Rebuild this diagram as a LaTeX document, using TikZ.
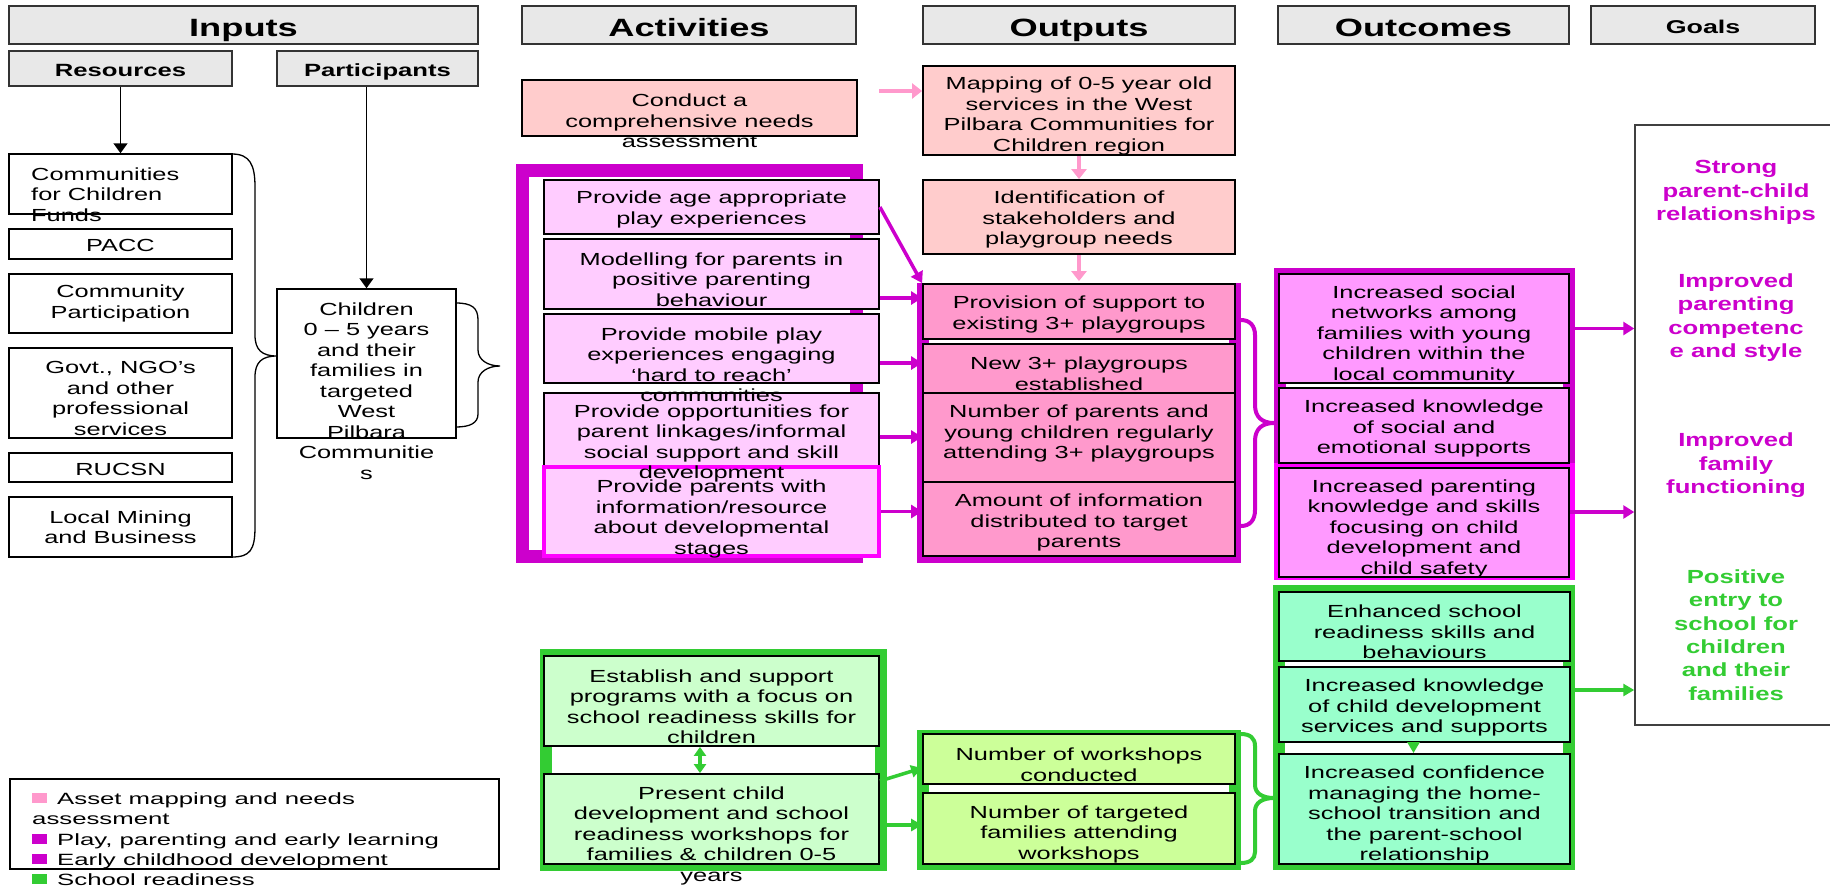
\documentclass[tikz,border=0pt]{standalone}
\usepackage{fontspec}
\setmainfont{Liberation Sans}[FakeStretch=1.45]
\newfontfamily\legfont{Liberation Sans}[FakeStretch=1.58]
\newfontfamily\goalfont{Liberation Sans}[FakeStretch=1.35]
\usetikzlibrary{arrows.meta,calc}
\definecolor{hdrgray}{HTML}{E8E8E8}
\definecolor{salmon}{HTML}{FFCCCC}
\definecolor{pinkarrow}{HTML}{FF99CC}
\definecolor{mag}{HTML}{CC00CC}
\definecolor{brightmag}{HTML}{FF00FF}
\definecolor{actpink}{HTML}{FFCCFF}
\definecolor{outpink}{HTML}{FF99CC}
\definecolor{ocpink}{HTML}{FF99FF}
\definecolor{grn}{HTML}{33CC33}
\definecolor{actgrn}{HTML}{CCFFCC}
\definecolor{outgrn}{HTML}{CCFF99}
\definecolor{ocgrn}{HTML}{99FFCC}
\newcommand{\mkbox}[6]{\node[#2, minimum width={#5-#3}, minimum height={#6-#4}] (#1) at ({(#3+#5)/2},{(#4+#6)/2}) {};}
\tikzset{
  hdr/.style={draw=black!80, fill=hdrgray, line width=1.5pt, inner sep=0pt, text height=22pt, text depth=0pt, font=\bfseries\fontsize{25}{30}\selectfont},
  subhdr/.style={hdr, text height=15pt, font=\bfseries\fontsize{17.7}{21}\selectfont},
  box/.style={draw=black, line width=1.8pt, inner sep=0pt},
  frame/.style={draw, line width=12pt, inner sep=0pt},
  tx/.style={inner sep=0pt, align=center, yshift=-1.5pt, font=\fontsize{17.5}{20.5}\selectfont},
  goal/.style={inner sep=0pt, align=center, font=\goalfont\bfseries\fontsize{19}{23.3}\selectfont},
  legtx/.style={inner sep=0pt, anchor=base west, font=\legfont\fontsize{16.3}{20}\selectfont},
  legsq/.style={inner sep=0pt, minimum width=15pt, minimum height=10pt},
  blkarr/.style={draw=black, line width=1.5pt, -{Triangle[length=10pt,width=14pt]}},
  pinkarr/.style={draw=pinkarrow, line width=4.5pt, -{Triangle[length=10pt,width=15pt]}},
  magarr/.style={draw=mag, line width=3.5pt, -{Triangle[length=11pt,width=13pt]}},
  grnarr/.style={draw=grn, line width=3.5pt, -{Triangle[length=11pt,width=12pt]}},
  grnarrd/.style={draw=grn, line width=3.5pt, {Triangle[length=9pt,width=12pt]}-{Triangle[length=9pt,width=12pt]}},
}
\begin{document}
\begin{tikzpicture}[x=1pt,y=-1pt]
\useasboundingbox (0,0) rectangle (1830,887);
\fill[white] (0,0) rectangle (1830,887);

% ---------- headers ----------
\node[hdr, minimum width=469, minimum height=38] (hin) at (243.5,25) {Inputs};
\node[hdr, minimum width=334, minimum height=38] (hact) at (689,25) {Activities};
\node[hdr, minimum width=312, minimum height=38] (hout) at (1079,25) {Outputs};
\node[hdr, minimum width=291, minimum height=38] (hoc) at (1423.5,25) {Outcomes};
\node[hdr, minimum width=224, minimum height=38, text height=16pt, font=\bfseries\fontsize{18.5}{22}\selectfont] (hgo) at (1703,25) {Goals};
\node[subhdr, minimum width=223, minimum height=35] (hres) at (120.5,68.5) {Resources};
\node[subhdr, minimum width=201, minimum height=35] (hpar) at (377.5,68.5) {Participants};

% ---------- group frames ----------
\draw[frame, draw=mag, line width=13pt] (522.5,170.5) rectangle (856.5,556.5);
\draw[frame, draw=mag] (923,289) rectangle (1235,557);
\draw[frame, draw=mag] (1280,274) rectangle (1569,459);
\draw[frame, draw=brightmag] (1280,469) rectangle (1569,574);
\draw[frame, draw=grn] (546,655) rectangle (881,865);
\draw[frame, draw=grn] (923,736) rectangle (1235,864);
\draw[frame, draw=grn] (1279,591) rectangle (1569,864);

% ---------- inputs ----------
\mkbox{cfc}{box, line width=1.5pt}{9}{154}{232}{214}
\mkbox{pacc}{box, line width=1.5pt}{9}{229}{232}{259}
\mkbox{cp}{box, line width=1.5pt}{9}{274}{232}{333}
\mkbox{govt}{box, line width=1.5pt}{9}{348}{232}{438}
\mkbox{rucsn}{box, line width=1.5pt}{9}{453}{232}{482}
\mkbox{lmb}{box, line width=1.5pt}{9}{497}{232}{557}
\mkbox{chi}{box, line width=1.5pt}{277}{289}{456}{438}

% ---------- activities ----------
\mkbox{conduct}{box, fill=salmon}{522}{80}{857}{136}
\mkbox{a1}{box, fill=actpink}{544}{180}{879}{234}
\mkbox{a2}{box, fill=actpink}{544}{239}{879}{309}
\mkbox{a3}{box, fill=actpink}{544}{314}{879}{383}
\mkbox{a4}{box, fill=actpink, line width=1.2pt}{544}{393}{879}{467}
\mkbox{a5}{box, fill=actpink, draw=brightmag, line width=4pt}{544}{467}{879}{556}
\mkbox{g1}{box, fill=actgrn}{544}{656}{879}{746}
\mkbox{g2}{box, fill=actgrn}{544}{774}{879}{864}

% ---------- outputs ----------
\mkbox{map}{box, fill=salmon}{923}{66}{1235}{155}
\mkbox{ident}{box, fill=salmon}{923}{180}{1235}{254}
\mkbox{o1}{box, fill=outpink}{923}{284}{1235}{339}
\mkbox{o2}{box, fill=outpink}{923}{344}{1235}{393}
\mkbox{o3}{box, fill=outpink}{923}{393}{1235}{482}
\mkbox{o4}{box, fill=outpink}{923}{482}{1235}{556}
\mkbox{w1}{box, fill=outgrn}{923}{734}{1235}{784}
\mkbox{w2}{box, fill=outgrn}{923}{793}{1235}{864}

% ---------- outcomes ----------
\mkbox{c1}{box, fill=ocpink}{1279}{274}{1569}{383}
\mkbox{c2}{box, fill=ocpink}{1279}{388}{1569}{463}
\mkbox{c3}{box, fill=ocpink}{1279}{468}{1569}{577}
\mkbox{e1}{box, fill=ocgrn}{1279}{592}{1570}{661}
\mkbox{e2}{box, fill=ocgrn}{1279}{667}{1570}{742}
\mkbox{e3}{box, fill=ocgrn}{1279}{754}{1570}{864}

% ---------- goals ----------
\mkbox{goals}{draw=black!75, line width=1.5pt, inner sep=0pt}{1635}{125}{1845}{725}

% ---------- legend ----------
\mkbox{leg}{box, line width=1.5pt}{10}{779}{499}{869}

% ---------- braces ----------
\draw[line width=1.3pt] (232,154) .. controls (250,154) and (255,165) .. (255,187) -- (255,335)
  .. controls (255,350) and (262,356) .. (277,356) .. controls (262,356) and (255,362) .. (255,377)
  -- (255,527) .. controls (255,550) and (250,557) .. (232,557);
\draw[line width=1.3pt] (456,303) .. controls (472,303) and (478,308) .. (478,320) -- (478,350)
  .. controls (478,360) and (488,366) .. (500,366) .. controls (488,366) and (478,372) .. (478,382)
  -- (478,414) .. controls (478,423) and (470,427) .. (456,427);
\draw[mag, line width=4pt] (1241,320) .. controls (1250,320) and (1255,326) .. (1255,335) -- (1255,405)
  .. controls (1255,417) and (1262,423) .. (1274,423) .. controls (1262,423) and (1255,429) .. (1255,441)
  -- (1255,510) .. controls (1255,520) and (1250,526) .. (1241,526);
\draw[grn, line width=4pt] (1241,734) .. controls (1250,734) and (1255,738) .. (1255,746) -- (1255,785)
  .. controls (1255,793) and (1262,798) .. (1274,798) .. controls (1262,798) and (1255,803) .. (1255,811)
  -- (1255,852) .. controls (1255,859) and (1250,863) .. (1241,863);

% ---------- texts ----------
\node[tx, align=left, anchor=west] (cfc-t) at (31,193) {Communities\\for Children\\Funds};
\node[tx] (pacc-t) at (120.5,244) {PACC};
\node[tx] (cp-t) at (120.5,302) {Community\\Participation};
\node[tx] (govt-t) at (120.5,397) {Govt., NGO’s\\and other\\professional\\services};
\node[tx] (rucsn-t) at (120.5,467.5) {RUCSN};
\node[tx] (lmb-t) at (120.5,525.5) {Local Mining\\and Business};
\node[tx] (chi-t) at (366.5,389.5) {Children\\0 – 5 years\\and their\\families in\\targeted\\West\\Pilbara\\Communitie\\s};

\node[tx] (conduct-t) at (689.5,119.3) {Conduct a\\comprehensive needs\\assessment};
\node[tx] (a1-t) at (711.5,208) {Provide age appropriate\\play experiences};
\node[tx] (a2-t) at (711.5,278) {Modelling for parents in\\positive parenting\\behaviour};
\node[tx] (a3-t) at (711.5,363) {Provide mobile play\\experiences engaging\\‘hard to reach’\\communities};
\node[tx] (a4-t) at (711.5,442) {Provide opportunities for\\parent linkages/informal\\social support and skill\\development};
\node[tx] (a5-t) at (711.5,517.5) {Provide parents with\\information/resource\\about developmental\\stages};
\node[tx] (g1-t) at (711.5,705) {Establish and support\\programs with a focus on\\school readiness skills for\\children};
\node[tx] (g2-t) at (711.5,834) {Present child\\development and school\\readiness workshops for\\families \& children 0-5\\years};

\node[tx] (map-t) at (1079,114.5) {Mapping of 0-5 year old\\services in the West\\Pilbara Communities for\\Children region};
\node[tx] (ident-t) at (1079,218.3) {Identification of\\stakeholders and\\playgroup needs};
\node[tx] (o1-t) at (1079,313) {Provision of support to\\existing 3+ playgroups};
\node[tx] (o2-t) at (1079,372) {New 3+ playgroups\\established};
\node[tx] (o3-t) at (1079,432.3) {Number of parents and\\young children regularly\\attending 3+ playgroups};
\node[tx] (o4-t) at (1079,521.3) {Amount of information\\distributed to target\\parents};
\node[tx] (w1-t) at (1079,763) {Number of workshops\\conducted};
\node[tx] (w2-t) at (1079,832.7) {Number of targeted\\families attending\\workshops};

\node[tx] (c1-t) at (1424,333) {Increased social\\networks among\\families with young\\children within the\\local community};
\node[tx] (c2-t) at (1424,427.3) {Increased knowledge\\of social and\\emotional supports};
\node[tx] (c3-t) at (1424,527.2) {Increased parenting\\knowledge and skills\\focusing on child\\development and\\child safety};
\node[tx] (e1-t) at (1424.5,630.3) {Enhanced school\\readiness skills and\\behaviours};
\node[tx] (e2-t) at (1424.5,706) {Increased knowledge\\of child development\\services and supports};
\node[tx] (e3-t) at (1424.5,813.8) {Increased confidence\\managing the home-\\school transition and\\the parent-school\\relationship};

\node[goal, text=mag] (gl1) at (1736,192.5) {Strong\\parent-child\\relationships};
\node[goal, text=mag] (gl2) at (1736,317.5) {Improved\\parenting\\competenc\\e and style};
\node[goal, text=mag] (gl3) at (1736,465.3) {Improved\\family\\functioning};
\node[goal, text=grn] (gl4) at (1736,635) {Positive\\entry to\\school for\\children\\and their\\families};

\node[legsq, fill=pinkarrow] (sq1) at (39.5,798) {};
\node[legsq, fill=mag] (sq2) at (39.5,839) {};
\node[legsq, fill=mag] (sq3) at (39.5,859) {};
\node[legsq, fill=grn] (sq4) at (39.5,879) {};
\node[legtx] (lg1) at (57,804) {Asset mapping and needs};
\node[legtx] (lg1b) at (32,824) {assessment};
\node[legtx] (lg2) at (57,845) {Play, parenting and early learning};
\node[legtx] (lg3) at (57,865) {Early childhood development};
\node[legtx] (lg4) at (57,885) {School readiness};

% ---------- connectors ----------
\draw[blkarr] (hres.south) -- (cfc.north);
\draw[blkarr] (hpar.south -| chi.north) -- (chi.north);

\coordinate (cstart) at (879,91);
\draw[pinkarr] (cstart) -- (cstart -| map.west);
\draw[pinkarr] (map.south) -- (ident.north);
\draw[pinkarr] (ident.south) -- ([yshift=2pt]o1.north);

\draw[magarr] (a1.east) -- (o1.north west);
\draw[magarr] ([yshift=-24pt]a2.east) -- ([yshift=-24pt]a2.east -| o1.west);
\draw[magarr] ([yshift=-14.5pt]a3.east) -- ([yshift=-14.5pt]a3.east -| o1.west);
\draw[magarr] ([yshift=-7pt]a4.east) -- ([yshift=-7pt]a4.east -| o1.west);
\draw[magarr] (a5.east) -- (a5.east -| o1.west);

\draw[grnarrd] ([xshift=-11.5pt]g1.south) -- ([xshift=-11.5pt]g2.north);
\draw[grnarr] ([yshift=38pt]g2.east) -- ([yshift=-9pt]w1.west);
\draw[grnarr] ([yshift=-6pt]g2.east) -- ([yshift=-6pt]g2.east -| w2.west);
\draw[grnarr] ([xshift=-11pt]e2.south) -- ([xshift=-11pt]e3.north);

\draw[magarr] (c1.east) -- (c1.east -| goals.west);
\draw[magarr] ([yshift=10.5pt]c3.east) -- ([yshift=10.5pt]c3.east -| goals.west);
\draw[grnarr] ([yshift=14.5pt]e2.east) -- ([yshift=14.5pt]e2.east -| goals.west);
\end{tikzpicture}
\end{document}
